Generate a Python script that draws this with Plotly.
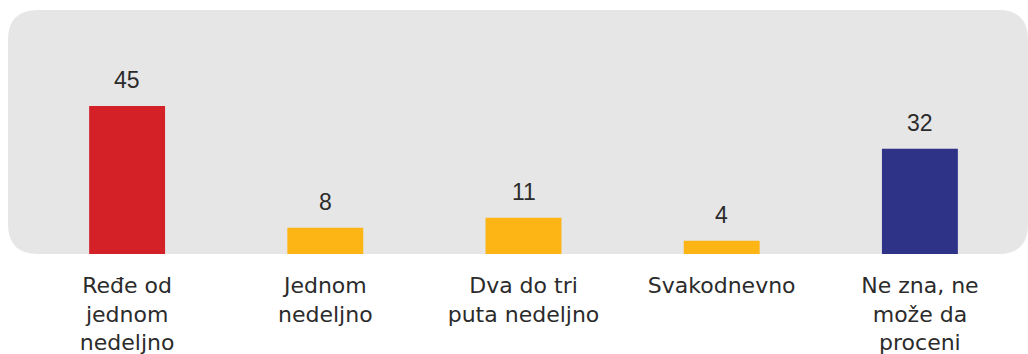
import plotly.graph_objects as go

categories = [
    "Ređe od<br>jednom<br>nedeljno",
    "Jednom<br>nedeljno",
    "Dva do tri<br>puta nedeljno",
    "Svakodnevno",
    "Ne zna, ne<br>može da<br>proceni",
]
values = [45, 8, 11, 4, 32]
bar_colors = ["#D42027", "#FDB515", "#FDB515", "#FDB515", "#2E3388"]

W, H = 1028, 354
ML, MR, MT, MB = 28, 9, 10, 100
Y_MAX = 74.2

fig = go.Figure()
fig.add_trace(go.Bar(
    x=list(range(len(values))),
    y=values,
    marker=dict(color=bar_colors, line=dict(width=0)),
    width=0.383,
    hoverinfo="skip",
))

# value labels above bars
for i, v in enumerate(values):
    fig.add_annotation(
        x=i, y=v, text=str(v), showarrow=False,
        yanchor="bottom", yshift=11,
        font=dict(family="Liberation Sans, Arial", size=23, color="#2b2b2b"),
    )

# rounded grey panel behind the plot
pw, ph = W - ML - MR, H - MT - MB
def px(x):
    return (x - ML) / pw
def py(y):
    return (H - MB - y) / ph
x0, x1, y0, y1, r = 8, 1028, 10, 254, 30
path = (
    f"M {px(x0 + r)},{py(y0)} L {px(x1 - r)},{py(y0)} "
    f"Q {px(x1)},{py(y0)} {px(x1)},{py(y0 + r)} "
    f"L {px(x1)},{py(y1 - r)} Q {px(x1)},{py(y1)} {px(x1 - r)},{py(y1)} "
    f"L {px(x0 + r)},{py(y1)} Q {px(x0)},{py(y1)} {px(x0)},{py(y1 - r)} "
    f"L {px(x0)},{py(y0 + r)} Q {px(x0)},{py(y0)} {px(x0 + r)},{py(y0)} Z"
)
fig.add_shape(type="path", path=path, xref="paper", yref="paper",
              fillcolor="#E6E6E6", line=dict(width=0), layer="below")

fig.update_layout(
    width=W, height=H,
    margin=dict(l=ML, r=MR, t=MT, b=MB),
    paper_bgcolor="white", plot_bgcolor="rgba(0,0,0,0)",
    showlegend=False,
    xaxis=dict(
        range=[-0.5, len(values) - 0.5],
        tickmode="array", tickvals=list(range(len(values))), ticktext=categories,
        showgrid=False, zeroline=False, showline=False, ticks="",
        ticklabelstandoff=16, automargin=False,
        tickfont=dict(family="DejaVu Sans", size=22, color="#2b2b2b"),
        fixedrange=True,
    ),
    yaxis=dict(range=[0, Y_MAX], visible=False, fixedrange=True, automargin=False),
)

fig.write_html("out.html", config={"displayModeBar": False})
